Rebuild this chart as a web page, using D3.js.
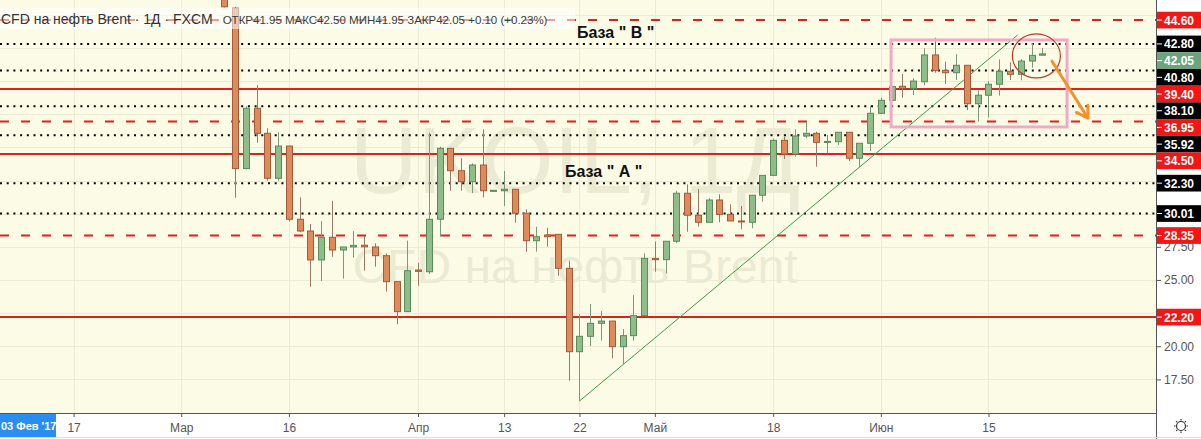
<!DOCTYPE html>
<html><head><meta charset="utf-8">
<script src="https://cdn.jsdelivr.net/npm/d3@7"></script>
<style>html,body{margin:0;padding:0;background:#fff;}svg{display:block;}</style>
</head><body><svg id="c" width="1201" height="439"></svg>
<script>
// ---------- data ----------
const dates = ["2020-03-06","2020-03-09","2020-03-10","2020-03-11","2020-03-12","2020-03-13",
"2020-03-16","2020-03-17","2020-03-18","2020-03-19","2020-03-20",
"2020-03-23","2020-03-24","2020-03-25","2020-03-26","2020-03-27",
"2020-03-30","2020-03-31","2020-04-01","2020-04-02","2020-04-03",
"2020-04-06","2020-04-07","2020-04-08","2020-04-09","2020-04-10",
"2020-04-13","2020-04-14","2020-04-15","2020-04-16","2020-04-17",
"2020-04-20","2020-04-21","2020-04-22","2020-04-23","2020-04-24",
"2020-04-27","2020-04-28","2020-04-29","2020-04-30","2020-05-01",
"2020-05-04","2020-05-05","2020-05-06","2020-05-07","2020-05-08",
"2020-05-11","2020-05-12","2020-05-13","2020-05-14","2020-05-15",
"2020-05-18","2020-05-19","2020-05-20","2020-05-21","2020-05-22",
"2020-05-25","2020-05-26","2020-05-27","2020-05-28","2020-05-29",
"2020-06-01","2020-06-02","2020-06-03","2020-06-04","2020-06-05",
"2020-06-08","2020-06-09","2020-06-10","2020-06-11","2020-06-12",
"2020-06-15","2020-06-16","2020-06-17","2020-06-18","2020-06-19",
"2020-06-22"];
const open = [49.90,45.50,33.40,37.95,36.06,32.67, 35.10,29.58,28.69,26.51,28.22,
27.26,27.49,27.62,27.49,26.83, 24.87,22.61,25.75,25.62,29.58,
34.93,33.24,32.41,33.67,31.76, 31.73,31.84,30.03,27.96,28.39,
28.44,25.88,19.59,20.75,21.73, 21.90,19.97,20.80,22.31,26.63,
26.53,27.92,31.54,29.88,29.35, 31.03,29.95,29.45,29.35,31.39,
32.89,35.53,34.50,35.86,36.06, 35.38,35.43,36.14,34.18,35.31,
37.57,38.55,39.61,39.45,39.95, 41.97,40.81,40.63,41.19,38.29,
38.93,39.76,40.74,40.51,41.51, 41.95];
const high = [50.60,45.60,38.10,39.70,36.44,36.14, 35.10,31.23,29.22,29.45,30.96,
27.49,28.69,28.32,27.77,27.00, 24.87,27.96,26.30,36.10,35.05,
34.93,34.18,33.80,36.36,31.78, 33.22,31.84,30.33,29.02,28.94,
28.44,26.45,22.43,23.19,22.66, 21.90,21.30,23.87,27.01,27.89,
27.92,31.73,32.21,31.86,31.16, 31.46,30.71,30.58,31.39,32.89,
35.68,35.80,36.36,36.94,36.18, 35.93,36.14,36.14,35.31,38.14,
38.75,39.60,40.53,40.21,42.47, 43.27,41.46,42.02,41.19,39.30,
40.00,41.64,41.42,41.66,42.85, 42.50];
const low = [45.55,31.20,33.35,35.35,32.49,32.49, 29.40,28.60,24.49,24.92,26.75,
25.10,26.68,25.70,26.00,24.12, 21.66,22.61,24.55,25.45,28.26,
31.73,31.73,31.54,31.23,31.74, 30.58,29.32,27.13,27.13,27.51,
25.32,17.40,15.87,20.02,20.42, 19.09,18.66,20.42,22.31,25.62,
25.50,27.77,28.64,29.02,29.35, 29.35,29.45,28.82,28.90,30.90,
32.89,34.12,34.30,35.70,33.54, 34.55,35.18,33.97,33.47,34.73,
37.50,38.55,38.75,38.95,39.70, 40.63,39.78,40.08,37.80,36.94,
37.24,38.90,40.08,40.06,41.01, 41.95];
const close = [45.60,33.40,37.95,36.06,32.67,35.10, 29.58,28.69,26.51,28.22,27.26,
27.49,27.61,27.50,26.83,24.87, 22.61,25.70,25.65,29.58,34.93,
33.24,32.41,33.67,31.73,31.76, 31.84,30.03,27.96,28.26,28.26,
25.88,19.59,20.75,21.73,21.90, 19.97,20.80,22.31,26.63,26.53,
27.92,31.54,29.88,29.35,31.03, 29.95,29.45,29.38,31.39,32.89,
35.53,34.50,35.86,36.06,35.38, 35.45,36.14,34.18,35.31,37.57,
38.55,39.58,39.45,40.00,41.97, 40.81,40.63,41.19,38.29,38.93,
39.76,40.74,40.51,41.51,41.94, 42.05];

const tickDates = ["2020-02-17","2020-03-02","2020-03-16","2020-04-01","2020-04-13","2020-04-22","2020-05-01","2020-05-18","2020-06-01","2020-06-15"];
const tickLabels = ["17","Мар","16","Апр","13","22","Май","18","Июн","15"];
const priceTicks = [17.5,20,22.5,25,27.5,30,32.5,35,37.5,40,42.5,45];

const solidLevels  = [39.40, 34.50, 22.20];
const dashedLevels = [44.60, 36.95, 28.35];
const dottedLevels = [42.80, 40.80, 38.10, 35.92, 32.30, 30.01];
const lastPrice = 42.05;

const titleText = "CFD на нефть Brent · 1Д · FXCM";
const legendText = "ОТКР41.95 МАКС42.50 МИН41.95 ЗАКР42.05 +0.10 (+0.23%)";
const watermark1 = "UKOIL, 1Д";
const watermark2 = "CFD на нефть Brent";
const crossDate = "03 Фев '17";
const baseA = "База \" А \"";
const baseB = "База \" В \"";

// annotations in (trading index, price)
const trendIdx = [33, 73.7], trendPrice = [15.87, 43.47];
const boxIdx = [61.95, 78.3], boxPrice = [43.1, 36.54];
const circleIdx = 75.45, circlePrice = 41.9;
const arrowIdx = [76.9, 80.25], arrowPrice = [41.5, 37.2];

// ---------- helpers ----------
const t0 = Date.UTC(2020,2,6);
function tIdx(s){
  const d = Date.parse(s+"T00:00:00Z");
  let n = 0, cur = new Date(t0); const step = d >= t0 ? 1 : -1;
  while (cur.getTime() !== d){
    cur.setUTCDate(cur.getUTCDate()+step);
    const wd = cur.getUTCDay(); if (wd!==0 && wd!==6) n += step;
  }
  return n;
}

const W = 1201, H = 439, paneR = 1156, paneB = 413;
const svg = d3.select("#c");
const x = d3.scaleLinear().domain([0,76]).range([224.3,1042.3]);
const y = d3.scaleLinear().domain([14.967,46.114]).range([paneB,0]);
const font = "'Liberation Sans', Arial, sans-serif";

svg.append("rect").attr("width",W).attr("height",H).attr("fill","#fff");
svg.append("rect").attr("width",paneR).attr("height",paneB).attr("fill","#fcfce6");
svg.append("defs").append("clipPath").attr("id","pane").append("rect").attr("width",paneR).attr("height",paneB);

const pane = svg.append("g").attr("clip-path","url(#pane)");
const tickIdx = tickDates.map(tIdx);

// grid
pane.selectAll(".vg").data(tickIdx).join("line")
  .attr("x1",d=>Math.round(x(d))+0.5).attr("x2",d=>Math.round(x(d))+0.5).attr("y1",0).attr("y2",paneB)
  .attr("stroke","#ebead2").attr("stroke-width",1);
pane.selectAll(".hg").data(priceTicks).join("line")
  .attr("x1",0).attr("x2",paneR).attr("y1",d=>Math.round(y(d))+0.5).attr("y2",d=>Math.round(y(d))+0.5)
  .attr("stroke","#ebead2").attr("stroke-width",1);

// watermark
pane.append("text").attr("x",paneR/2-3).attr("y",193).attr("text-anchor","middle")
  .attr("font-family",font).attr("font-size",94).attr("fill","#ebebd4").text(watermark1);
pane.append("text").attr("x",paneR/2-3).attr("y",283).attr("text-anchor","middle")
  .attr("font-family",font).attr("font-size",48).attr("fill","#ebebd4").text(watermark2);

// levels
pane.selectAll(".dot").data(dottedLevels).join("line")
  .attr("x1",0).attr("x2",paneR).attr("y1",d=>y(d)).attr("y2",d=>y(d))
  .attr("stroke","#000").attr("stroke-width",2).attr("stroke-dasharray","2,4.7");
pane.selectAll(".sol").data(solidLevels).join("line")
  .attr("x1",0).attr("x2",paneR).attr("y1",d=>y(d)).attr("y2",d=>y(d))
  .attr("stroke","#d92323").attr("stroke-width",2);
pane.selectAll(".das").data(dashedLevels).join("line")
  .attr("x1",0).attr("x2",paneR).attr("y1",d=>y(d)).attr("y2",d=>y(d))
  .attr("stroke","#d92323").attr("stroke-width",2).attr("stroke-dasharray","9,12");

// trend line
pane.append("line").attr("x1",x(trendIdx[0])).attr("y1",y(trendPrice[0]))
  .attr("x2",x(trendIdx[1])).attr("y2",y(trendPrice[1]))
  .attr("stroke","#3a9a45").attr("stroke-width",1);

// candles
const candles = dates.map((d,i)=>({i:tIdx(d),o:open[i],h:high[i],l:low[i],c:close[i]}));
const bw = 7;
const cg = pane.append("g");
cg.selectAll(".wick").data(candles).join("line")
  .attr("x1",d=>Math.round(x(d.i))+0.5).attr("x2",d=>Math.round(x(d.i))+0.5)
  .attr("y1",d=>y(d.h)).attr("y2",d=>y(d.l))
  .attr("stroke",d=>d.c>=d.o?"#7c9a7a":"#9a7a66").attr("stroke-width",1);
cg.selectAll(".body").data(candles).join("rect")
  .attr("x",d=>Math.round(x(d.i))-3+0.5).attr("width",bw-1)
  .attr("y",d=>y(Math.max(d.o,d.c)))
  .attr("height",d=>Math.max(1,Math.abs(y(d.o)-y(d.c))))
  .attr("fill",d=>d.c>=d.o?"#8fbd89":"#e08a5c")
  .attr("stroke",d=>d.c>=d.o?"#5b8a5a":"#a25a38").attr("stroke-width",1);

// rectangle
pane.append("rect").attr("x",x(boxIdx[0])).attr("y",y(boxPrice[0]))
  .attr("width",x(boxIdx[1])-x(boxIdx[0])).attr("height",y(boxPrice[1])-y(boxPrice[0]))
  .attr("fill","none").attr("stroke","#f2a9c7").attr("stroke-width",3);
// ellipse
pane.append("ellipse").attr("cx",x(circleIdx)).attr("cy",y(circlePrice)).attr("rx",24).attr("ry",22)
  .attr("fill","none").attr("stroke","#c0392b").attr("stroke-width",1.2);
// arrow
{
  const ax1=x(arrowIdx[0]), ay1=y(arrowPrice[0]), ax2=x(arrowIdx[1]), ay2=y(arrowPrice[1]);
  const ang = Math.atan2(ay2-ay1, ax2-ax1), L=13, sp=0.55;
  const p1=[ax2-L*Math.cos(ang-sp), ay2-L*Math.sin(ang-sp)], p2=[ax2-L*Math.cos(ang+sp), ay2-L*Math.sin(ang+sp)];
  pane.append("path").attr("d",`M${ax1},${ay1}L${ax2},${ay2}M${p1}L${ax2},${ay2}L${p2}`)
    .attr("fill","none").attr("stroke","#f5902a").attr("stroke-width",3).attr("stroke-linecap","round").attr("stroke-linejoin","round");
}

// base labels
pane.append("text").attr("x",577).attr("y",y(43.25)).attr("font-family",font).attr("font-weight","bold")
  .attr("font-size",16).attr("fill","#111").text(baseB);
pane.append("text").attr("x",565).attr("y",y(32.77)).attr("font-family",font).attr("font-weight","bold")
  .attr("font-size",16).attr("fill","#111").text(baseA);

// legend overlay
pane.append("rect").attr("x",0).attr("y",8).attr("width",575).attr("height",21).attr("fill","#fff").attr("opacity",0.55);
const lg = pane.append("text").attr("x",1).attr("y",24).attr("font-family",font).attr("fill","#333");
lg.append("tspan").attr("font-size",14).text(titleText);
lg.append("tspan").attr("dx",10).attr("font-size",11.5).attr("fill","#3b3b3b").text(legendText);

// axes
svg.append("rect").attr("x",paneR).attr("y",0).attr("width",W-paneR).attr("height",H).attr("fill","#fff");
svg.append("rect").attr("x",0).attr("y",paneB).attr("width",paneR).attr("height",H-paneB).attr("fill","#fff");

const xAxis = d3.axisBottom(x).tickValues(tickIdx).tickFormat((d,i)=>tickLabels[i]).tickSize(4).tickSizeOuter(0);
const gx = svg.append("g").attr("transform",`translate(0,${paneB})`).call(xAxis);
gx.select(".domain").attr("d",`M0,0.5H${paneR}`).attr("stroke","#555");
gx.selectAll(".tick line").attr("stroke","#555");
gx.selectAll(".tick text").attr("font-family",font).attr("font-size",12).attr("fill","#555").attr("y",10);

// level labels on axis (stacked so they don't collide)
const labs = [];
solidLevels.concat(dashedLevels).forEach(v=>labs.push({v,bg:"#f41515"}));
dottedLevels.forEach(v=>labs.push({v,bg:"#000"}));
labs.push({v:lastPrice,bg:"#6ca57d"});
labs.sort((a,b)=>b.v-a.v);
const lh = 16.7; let prev = -1e9;
labs.forEach(l=>{ let yy=y(l.v); if (yy < prev+lh) yy = prev+lh; l.y=yy; prev=yy; });

// price axis: hide tick labels fully covered by a level label
const covered = v => labs.some(l => Math.abs(y(v)-l.y) < lh*0.62);
const yAxis = d3.axisRight(y).tickValues(priceTicks)
  .tickFormat(v => covered(v) ? "" : d3.format(".2f")(v)).tickSize(5).tickSizeOuter(0);
const gy = svg.append("g").attr("transform",`translate(${paneR},0)`).call(yAxis);
gy.select(".domain").attr("d",`M0.5,0V${H}`).attr("stroke","#555");
gy.selectAll(".tick line").attr("stroke","#555");
gy.selectAll(".tick text").attr("font-family",font).attr("font-size",12).attr("fill","#555").attr("x",8);

const lgp = svg.append("g");
lgp.selectAll("rect").data(labs).join("rect")
  .attr("x",paneR+1).attr("y",d=>d.y-lh/2).attr("width",W-paneR-1).attr("height",lh).attr("fill",d=>d.bg);
lgp.selectAll("line").data(labs).join("line")
  .attr("x1",paneR+1).attr("x2",paneR+6).attr("y1",d=>d.y).attr("y2",d=>d.y).attr("stroke","#fff");
lgp.selectAll("text").data(labs).join("text")
  .attr("x",paneR+8).attr("y",d=>d.y+4.5).attr("font-family",font).attr("font-size",12).attr("font-weight","bold")
  .attr("fill","#fff").text(d=>d.v.toFixed(2));

// crosshair date label
svg.append("rect").attr("x",0).attr("y",paneB+1).attr("width",56).attr("height",24).attr("fill","#2a8ef0");
svg.append("text").attr("x",1).attr("y",paneB+17).attr("font-family",font).attr("font-size",11).attr("font-weight","bold")
  .attr("fill","#fff").text(crossDate);
svg.append("line").attr("x1",0).attr("x2",W).attr("y1",H-1.5).attr("y2",H-1.5).attr("stroke","#ddd");

// settings icon
{
  const g = svg.append("g").attr("transform",`translate(1181,${paneB+13})`).attr("stroke","#333").attr("fill","none");
  g.append("circle").attr("r",4.5).attr("stroke-width",1.2);
  d3.range(8).forEach(k=>{const a=k*Math.PI/4; g.append("line").attr("x1",5.5*Math.cos(a)).attr("y1",5.5*Math.sin(a)).attr("x2",7*Math.cos(a)).attr("y2",7*Math.sin(a)).attr("stroke-width",1.2);});
}
</script></body></html>
